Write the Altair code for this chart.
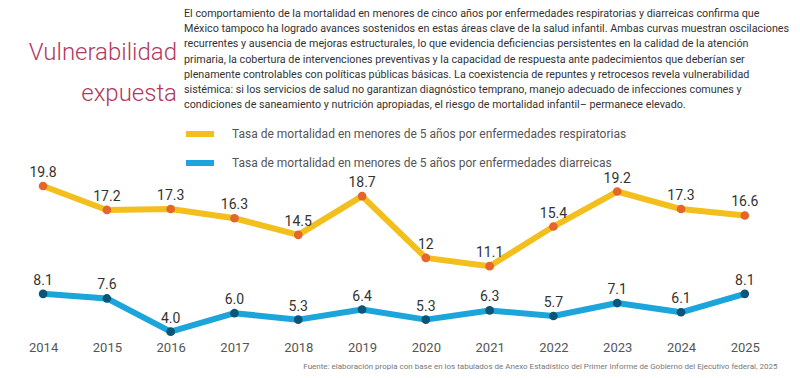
import altair as alt
import pandas as pd

years = list(range(2014, 2026))
resp = [19.8, 17.2, 17.3, 16.3, 14.5, 18.7, 12.0, 11.1, 15.4, 19.2, 17.3, 16.6]
resp_lbl = ["19.8", "17.2", "17.3", "16.3", "14.5", "18.7", "12", "11.1", "15.4", "19.2", "17.3", "16.6"]
diar = [8.1, 7.6, 4.0, 6.0, 5.3, 6.4, 5.3, 6.3, 5.7, 7.1, 6.1, 8.1]
diar_lbl = ["8.1", "7.6", "4.0", "6.0", "5.3", "6.4", "5.3", "6.3", "5.7", "7.1", "6.1", "8.1"]

s_resp = "Tasa de mortalidad en menores de 5 años por enfermedades respiratorias"
s_diar = "Tasa de mortalidad en menores de 5 años por enfermedades diarreicas"

title_lines = ["Vulnerabilidad", "expuesta"]
para_lines = [
    "El comportamiento de la mortalidad en menores de cinco años por enfermedades respiratorias y diarreicas confirma que",
    "México tampoco ha logrado avances sostenidos en estas áreas clave de la salud infantil. Ambas curvas muestran oscilaciones",
    "recurrentes y ausencia de mejoras estructurales, lo que evidencia deficiencias persistentes en la calidad de la atención",
    "primaria, la cobertura de intervenciones preventivas y la capacidad de respuesta ante padecimientos que deberían ser",
    "plenamente controlables con políticas públicas básicas. La coexistencia de repuntes y retrocesos revela vulnerabilidad",
    "sistémica: si los servicios de salud no garantizan diagnóstico temprano, manejo adecuado de infecciones comunes y",
    "condiciones de saneamiento y nutrición apropiadas, el riesgo de mortalidad infantil– permanece elevado.",
]
source = "Fuente: elaboración propia con base en los tabulados de Anexo Estadístico del Primer Informe de Gobierno del Ejecutivo federal, 2025"

df = pd.DataFrame({
    "year": years * 2,
    "value": resp + diar,
    "label": resp_lbl + diar_lbl,
    "serie": [s_resp] * len(years) + [s_diar] * len(years),
})

W, H = 784, 330
x_scale = alt.Scale(domain=[2013.45, 2025.74], nice=False, zero=False)
y_scale = alt.Scale(domain=[3.2, 39.0], nice=False, zero=False)
color_scale = alt.Scale(domain=[s_resp, s_diar], range=["#F3BF1C", "#1CA5DB"])
dot_scale = alt.Scale(domain=[s_resp, s_diar], range=["#E5652A", "#0C5579"])

X = alt.X("year:Q", scale=x_scale,
          axis=alt.Axis(values=years, format="d", grid=False, domain=False, ticks=False,
                        labelFont="Roboto", labelFontSize=13, labelColor="#555555",
                        labelPadding=2, title=source, titleFont="Roboto",
                        titleFontSize=8, titleFontWeight="normal", titleColor="#777777",
                        titleX=769, titleAlign="right", titlePadding=8))
Y = alt.Y("value:Q", scale=y_scale, axis=None)

base = alt.Chart(df)

lines = base.mark_line(strokeWidth=6, strokeCap="round", strokeJoin="round").encode(
    x=X, y=Y,
    color=alt.Color("serie:N", scale=color_scale,
                    legend=alt.Legend(orient="none", legendX=175, legendY=108, title=None,
                                      symbolType="stroke", symbolSize=784, symbolStrokeWidth=6,
                                      labelFont="Roboto", labelFontSize=12, labelColor="#555555",
                                      labelOffset=15, rowPadding=-2, labelLimit=600)),
    detail="serie:N",
)

dots = base.mark_circle(size=75, opacity=1).encode(
    x=X, y=Y,
    fill=alt.Fill("serie:N", scale=dot_scale, legend=None),
)

labels = base.mark_text(dy=-13, font="Roboto", fontSize=14, color="#333333", baseline="middle").encode(
    x=X, y=Y, text="label:N",
)

tdf = pd.DataFrame({"t": ["\n".join(title_lines)]})
title_mark = alt.Chart(tdf).mark_text(
    align="right", baseline="alphabetic", font="Roboto",
    fontSize=24, fontWeight=300, color="#B2385E", lineBreak="\n", lineHeight=41,
).encode(x=alt.value(169), y=alt.value(51), text="t:N")

pdf = pd.DataFrame({"t": ["\n".join(para_lines)]})
para_mark = alt.Chart(pdf).mark_text(
    align="left", baseline="top", font="Roboto",
    fontSize=10.75, color="#333333", lineBreak="\n", lineHeight=15.2,
).encode(x=alt.value(176), y=alt.value(0), text="t:N")

chart = alt.layer(title_mark, para_mark, lines, dots, labels).properties(
    width=W, height=H, padding={"left": 0, "right": 0, "top": 0, "bottom": 0}
).configure(background="white").configure_view(stroke=None)

chart.save("out.html", embed_options={"renderer": "svg", "actions": False})
